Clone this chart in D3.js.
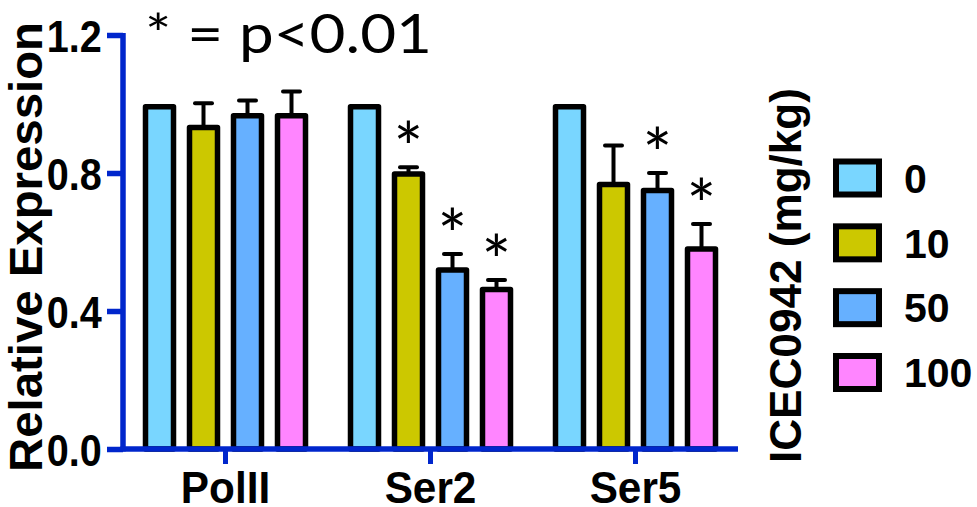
<!DOCTYPE html>
<html lang="en">
<head>
  <meta charset="UTF-8">
  <title>Relative Expression</title>
  <style>
    body, html { margin: 0; padding: 0; background: white; }
    svg { display: block; }
  </style>
</head>
<body>
  <script src="https://d3js.org/d3.v7.min.js"></script>
  <script>
    // Data
    const groups = ['PolII', 'Ser2', 'Ser5'];
    const doses = ['0', '10', '50', '100'];
    const colors = ['#79d6ff', '#ccc800', '#66b0ff', '#ff85ff'];

    const dose0 = [1.0, 1.0, 1.0];
    const dose10 = [0.94, 0.805, 0.775];
    const dose50 = [0.974, 0.527, 0.757];
    const dose100 = [0.974, 0.47, 0.588];

    const err0 = [0, 0, 0];
    const err10 = [0.062, 0.012, 0.105];
    const err50 = [0.036, 0.038, 0.043];
    const err100 = [0.062, 0.02, 0.064];

    const sig0 = [false, false, false];
    const sig10 = [false, true, false];
    const sig50 = [false, true, true];
    const sig100 = [false, true, true];

    const yTicks = [0, 0.4, 0.8, 1.2];

    const series = [dose0, dose10, dose50, dose100];
    const errors = [err0, err10, err50, err100];
    const sigs = [sig0, sig10, sig50, sig100];

    const width = 977;
    const height = 507;
    const axisBlue = '#0026cc';

    const svg = d3.select('body')
      .append('svg')
      .attr('width', width)
      .attr('height', height);

    // Scales
    const x0 = d3.scaleBand().domain(groups).range([123, 738]).padding(0);
    const x1 = d3.scaleBand().domain(doses).range([-88, 88]).padding(0);
    const y = d3.scaleLinear().domain([0, 1.2]).range([449, 35]);

    const barW = 28;
    const sw = 5.5;

    // flatten into rows for drawing
    const rows = [];
    groups.forEach((g, gi) => {
      doses.forEach((d, di) => {
        rows.push({
          group: g,
          dose: d,
          value: series[di][gi],
          err: errors[di][gi],
          sig: sigs[di][gi],
          color: colors[di],
          cx: x0(g) + x0.bandwidth() / 2 + x1(d) + x1.bandwidth() / 2
        });
      });
    });

    const bars = svg.append('g');

    // error bars (behind bars)
    const eb = bars.selectAll('.err')
      .data(rows.filter(r => r.err > 0))
      .enter()
      .append('g')
      .attr('class', 'err');
    eb.append('line')
      .attr('x1', d => d.cx).attr('x2', d => d.cx)
      .attr('y1', d => y(d.value) + 3)
      .attr('y2', d => y(d.value + d.err))
      .attr('stroke', 'black')
      .attr('stroke-width', 4);
    eb.append('line')
      .attr('x1', d => d.cx - 8.5).attr('x2', d => d.cx + 8.5)
      .attr('y1', d => y(d.value + d.err))
      .attr('y2', d => y(d.value + d.err))
      .attr('stroke', 'black')
      .attr('stroke-width', 4)
      .attr('stroke-linecap', 'round');

    bars.selectAll('rect')
      .data(rows)
      .enter()
      .append('rect')
      .attr('x', d => d.cx - barW / 2)
      .attr('y', d => y(d.value) + sw / 2)
      .attr('width', barW)
      .attr('height', d => y(0) - y(d.value) - sw / 2)
      .attr('fill', d => d.color)
      .attr('stroke', 'black')
      .attr('stroke-width', sw)
      .attr('stroke-linejoin', 'round');

    // significance stars
    svg.append('g')
      .selectAll('text')
      .data(rows.filter(r => r.sig))
      .enter()
      .append('text')
      .attr('x', d => d.cx)
      .attr('y', d => y(d.value + d.err) + 6)
      .attr('text-anchor', 'middle')
      .attr('font-family', 'Lato, "Liberation Sans", sans-serif')
      .attr('font-size', 70)
      .attr('fill', 'black')
      .text('*');

    // Y axis
    const yAxis = svg.append('g')
      .attr('transform', 'translate(123,0)')
      .call(d3.axisLeft(y).tickValues(yTicks).tickFormat(d3.format('.1f')).tickSize(16).tickSizeOuter(0));
    yAxis.select('.domain')
      .attr('stroke', axisBlue)
      .attr('stroke-width', sw)
      .attr('d', `M0,${y(1.2) - 2}V${y(0) + 2.5}`);
    yAxis.selectAll('.tick line').attr('stroke', axisBlue).attr('stroke-width', sw);
    yAxis.selectAll('.tick text')
      .attr('x', -23.5)
      .attr('dy', '0.37em')
      .attr('transform', 'scale(0.9,1)')
      .attr('font-family', '"Liberation Sans", Arial, sans-serif')
      .attr('font-weight', 'bold')
      .attr('font-size', 44)
      .attr('fill', 'black');

    // X axis
    const xAxis = svg.append('g')
      .attr('transform', `translate(0,${y(0)})`)
      .call(d3.axisBottom(x0).tickSize(15).tickSizeOuter(0));
    xAxis.select('.domain')
      .attr('stroke', axisBlue)
      .attr('stroke-width', sw)
      .attr('d', `M${123 - 2.5},0H738`);
    xAxis.selectAll('.tick line').attr('stroke', axisBlue).attr('stroke-width', 5);
    xAxis.selectAll('.tick text')
      .attr('y', 54)
      .attr('dy', 0)
      .attr('transform', 'scale(0.94,1)')
      .attr('font-family', '"Liberation Sans", Arial, sans-serif')
      .attr('font-weight', 'bold')
      .attr('font-size', 45)
      .attr('fill', 'black');

    // Y axis title
    svg.append('text')
      .attr('transform', 'translate(42,247) rotate(-90)')
      .attr('text-anchor', 'middle')
      .attr('font-family', '"Liberation Sans", Arial, sans-serif')
      .attr('font-weight', 'bold')
      .attr('font-size', 47)
      .attr('textLength', 450)
      .attr('lengthAdjust', 'spacingAndGlyphs')
      .text('Relative Expression');

    // significance note
    svg.append('text')
      .attr('x', 145)
      .attr('y', 53)
      .attr('font-family', 'Lato, "Open Sans", sans-serif')
      .attr('font-size', 55)
      .attr('textLength', 287)
      .attr('lengthAdjust', 'spacingAndGlyphs')
      .text('* = p<0.01');

    // Legend title
    svg.append('text')
      .attr('transform', 'translate(801,275.5) rotate(-90)')
      .attr('text-anchor', 'middle')
      .attr('font-family', '"Liberation Sans", Arial, sans-serif')
      .attr('font-weight', 'bold')
      .attr('font-size', 45)
      .attr('textLength', 375)
      .attr('lengthAdjust', 'spacingAndGlyphs')
      .text('ICEC0942 (mg/kg)');

    // Legend
    const legY = d3.scalePoint().domain(doses).range([178, 372.5]);
    const leg = svg.append('g')
      .selectAll('g')
      .data(doses)
      .enter()
      .append('g')
      .attr('transform', d => `translate(0,${legY(d)})`);
    leg.append('rect')
      .attr('x', 836)
      .attr('y', -16.5)
      .attr('width', 43)
      .attr('height', 33)
      .attr('fill', (d, i) => colors[i])
      .attr('stroke', 'black')
      .attr('stroke-width', 6);
    leg.append('text')
      .attr('x', 904)
      .attr('y', 0)
      .attr('dy', '0.36em')
      .attr('font-family', '"Liberation Sans", Arial, sans-serif')
      .attr('font-weight', 'bold')
      .attr('font-size', 41)
      .text(d => d);
  </script>
</body>
</html>
